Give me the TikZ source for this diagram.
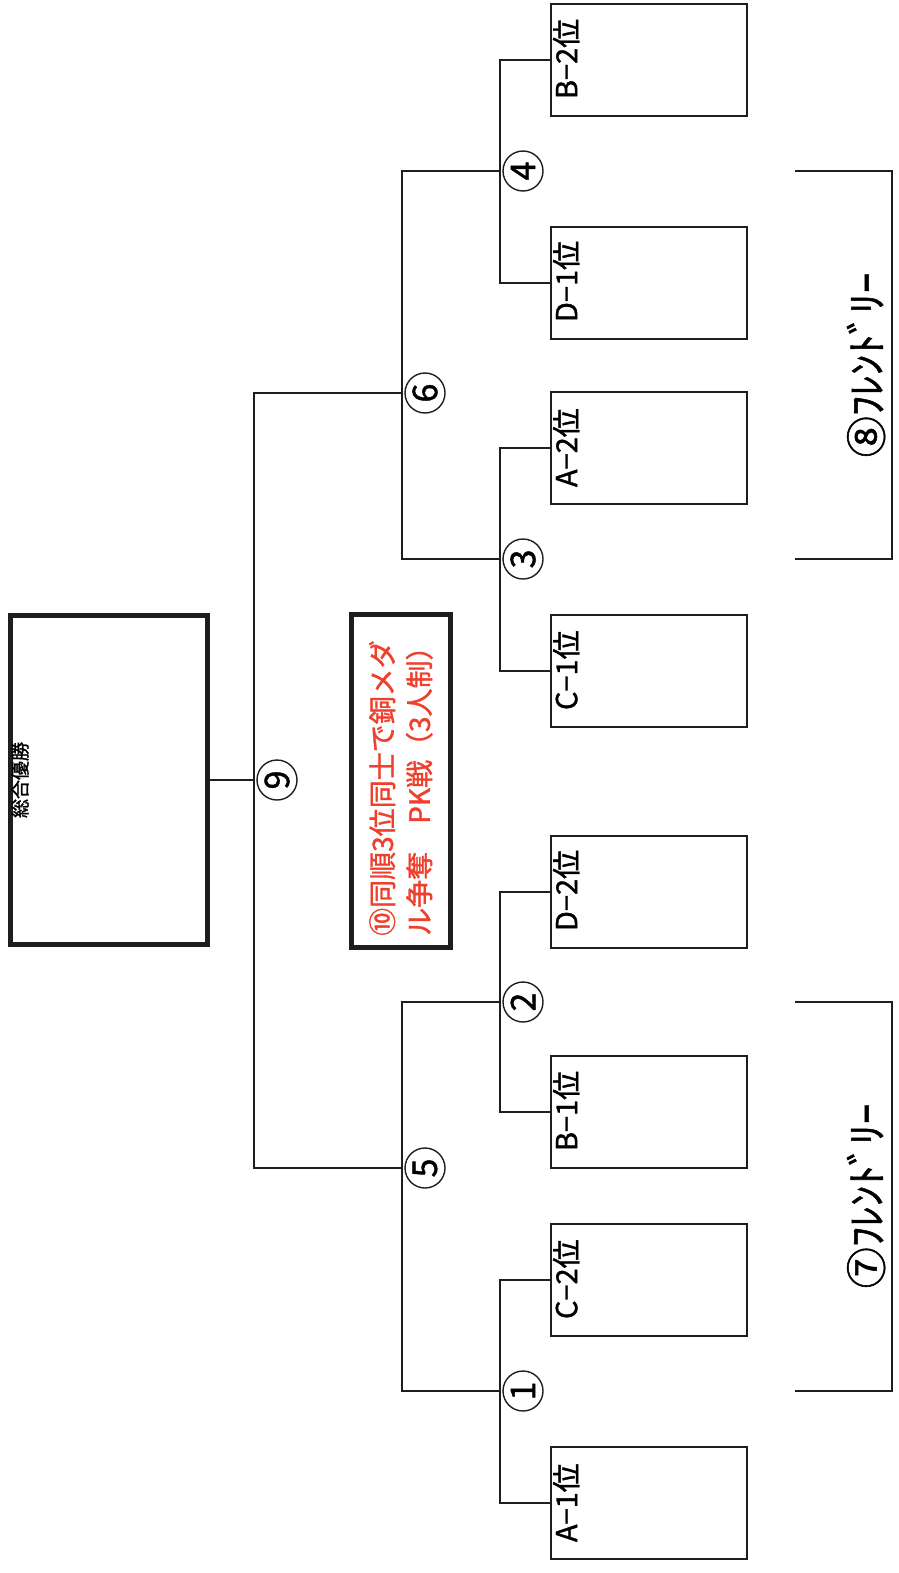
\documentclass[tikz,border=0pt]{standalone}
\usepackage{fontspec}
\setmainfont{Noto Sans CJK JP}[FakeBold=1.3]
\usepackage{tikz}
\usetikzlibrary{calc}
\definecolor{medalred}{RGB}{238,64,44}
\definecolor{inkgray}{RGB}{30,30,30}
\tikzset{
  team/.style={rectangle, draw=inkgray, line width=2.5pt, minimum width=196pt, minimum height=112pt, inner sep=0pt},
  teamlbl/.style={rotate=90, anchor=north west, inner sep=0pt, font=\fontsize{29}{30}\selectfont},
  match/.style={circle, draw=inkgray, line width=1.4pt, minimum size=40pt, inner sep=0pt, rotate=90, font=\fontsize{34}{34}\selectfont},
  wire/.style={draw=inkgray, line width=2.5pt},
  thickbox/.style={rectangle, draw=inkgray, line width=5pt, inner sep=0pt},
  friendly/.style={rotate=90, inner sep=0pt, font=\fontsize{41}{41}\selectfont},
}

\begin{document}
\begin{tikzpicture}[x=1pt, y=-1pt]
  \useasboundingbox (0,0) rectangle (898,1573);

  % team boxes
  \foreach \name/\y/\txt in {b2/60/B−2位, d1/283/D−1位, a2/448/A−2位, c1/671/C−1位,
                             d2/892/D−2位, b1/1112/B−1位, c2/1280/C−2位, a1/1503/A−1位} {
    \node[team] (\name) at (649,\y) {};
    \node[teamlbl] (\name-lbl) at ($(\name.south west)+(3,-18)$) {\txt};
  }

  % round 1
  \coordinate (j4) at (500,171);
  \coordinate (j3) at (500,559);
  \coordinate (j2) at (500,1002);
  \coordinate (j1) at (500,1391);
  \draw[wire] (b2.west) -| (j4) |- (d1.west);
  \draw[wire] (a2.west) -| (j3) |- (c1.west);
  \draw[wire] (d2.west) -| (j2) |- (b1.west);
  \draw[wire] (c2.west) -| (j1) |- (a1.west);

  % round 2
  \coordinate (j6) at (402,393);
  \coordinate (j5) at (402,1168);
  \draw[wire] (j4) -| (j6) |- (j3);
  \draw[wire] (j2) -| (j5) |- (j1);

  % final
  \coordinate (j9) at (254,780);
  \draw[wire] (j6) -| (j9) |- (j5);
  \node[thickbox, minimum width=197pt, minimum height=329pt] (champ) at (109,780) {};
  \node[rotate=90, anchor=north, inner sep=0pt, font=\fontsize{19}{19}\selectfont] (champ-lbl) at ($(champ.west)+(3,0)$) {総合優勝};
  \draw[wire] (j9) -- (champ.east);

  % match numbers
  \foreach \m in {1,...,6,9}
    \node[match] (m\m) at ([xshift=23pt]j\m) {\m};

  % bronze match
  \node[thickbox, minimum width=99pt, minimum height=333pt] (medal) at (401,781) {};
  \node[rotate=90, anchor=north west, align=left, inner sep=0pt, text=medalred, font=\fontsize{28}{37}\selectfont]
    (medal-txt) at ($(medal.south west)+(20,-14)$) {⑩同順3位同士で銅メダ\\ル争奪　PK戦（3人制）};

  % friendly matches
  \coordinate (f8t) at (795,171);
  \coordinate (f8b) at (795,559);
  \draw[wire] (f8t) -- ++(97,0) |- (f8b);
  \node[friendly] (fr8) at (866,365) {⑧ﾌﾚﾝﾄﾞﾘｰ};

  \coordinate (f7t) at (795,1002);
  \coordinate (f7b) at (795,1391);
  \draw[wire] (f7t) -- ++(97,0) |- (f7b);
  \node[friendly] (fr7) at (866,1196) {⑦ﾌﾚﾝﾄﾞﾘｰ};
\end{tikzpicture}
\end{document}
